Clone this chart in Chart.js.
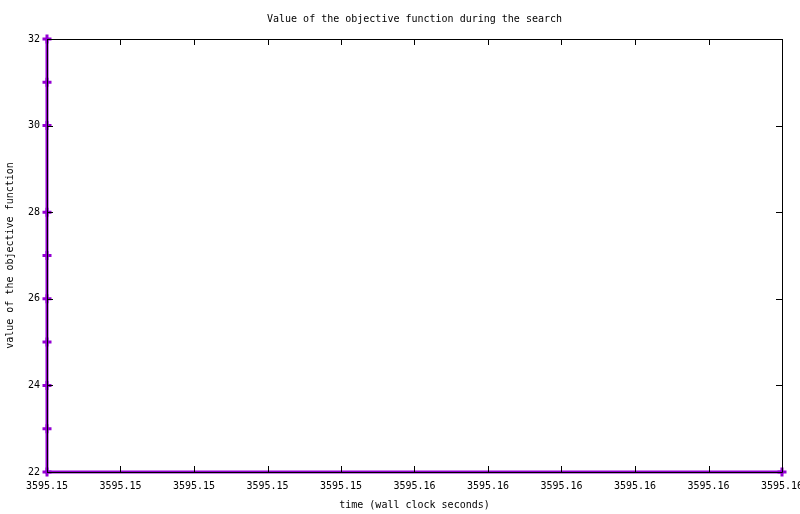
<!DOCTYPE html>
<html>
<head>
<meta charset="utf-8">
<script src="https://cdn.jsdelivr.net/npm/chart.js@4"></script>
<style>
    html, body { margin: 0; padding: 0; background: #ffffff; }
    #wrap { width: 800px; height: 514px; }
</style>
</head>
<body>
<div id="wrap"><canvas id="objectiveChart"></canvas></div>
<script>
// Objective value over wall clock time (gnuplot-style plot)

const timeValues = [3595.151, 3595.151, 3595.151, 3595.151, 3595.151, 3595.151, 3595.151, 3595.151, 3595.151, 3595.151, 3595.1595];
const objectiveValues = [32, 31, 30, 28, 27, 26, 25, 24, 23, 22, 22];

const xMin = 3595.151;
const xMax = 3595.1595;
const xTickLabels = ['3595.15', '3595.15', '3595.15', '3595.15', '3595.15', '3595.16', '3595.16', '3595.16', '3595.16', '3595.16', '3595.16'];
const yTickValues = [22, 24, 26, 28, 30, 32];

const chartTitle = 'Value of the objective function during the search';
const xTitle = 'time (wall clock seconds)';
const yTitle = 'value of the objective function';

const lineColor = '#9400d3';
const monoFont = "'DejaVu Sans Mono', 'Liberation Mono', monospace";

// Frame, inward ticks and titles drawn like gnuplot does
const gnuplotFrame = {
    id: 'gnuplotFrame',
    afterDatasetsDraw(chart) {
        const ctx = chart.ctx;
        const area = chart.chartArea;
        const xScale = chart.scales.x;
        const yScale = chart.scales.y;
        const tick = 6;

        ctx.save();
        ctx.strokeStyle = '#000000';
        ctx.lineWidth = 1;
        ctx.beginPath();
        ctx.rect(Math.round(area.left) + 0.5, Math.round(area.top) + 0.5,
            Math.round(area.right - area.left), Math.round(area.bottom - area.top));

        xScale.ticks.forEach(t => {
            const px = Math.round(xScale.getPixelForValue(t.value)) + 0.5;
            ctx.moveTo(px, area.bottom);
            ctx.lineTo(px, area.bottom - tick);
            ctx.moveTo(px, area.top);
            ctx.lineTo(px, area.top + tick);
        });
        yScale.ticks.forEach(t => {
            const py = Math.round(yScale.getPixelForValue(t.value)) + 0.5;
            ctx.moveTo(area.left, py);
            ctx.lineTo(area.left + tick, py);
            ctx.moveTo(area.right, py);
            ctx.lineTo(area.right - tick, py);
        });
        ctx.stroke();

        ctx.fillStyle = '#000000';
        ctx.font = '10px ' + monoFont;
        ctx.textAlign = 'center';
        ctx.textBaseline = 'middle';
        const midX = (area.left + area.right) / 2;
        ctx.fillText(chartTitle, midX, 19);
        ctx.fillText(xTitle, midX, 505);

        ctx.translate(10, (area.top + area.bottom) / 2);
        ctx.rotate(-Math.PI / 2);
        ctx.fillText(yTitle, 0, 0);
        ctx.restore();
    }
};

new Chart(document.getElementById('objectiveChart').getContext('2d'), {
    type: 'scatter',
    data: {
        datasets: [{
            data: timeValues.map((t, i) => ({ x: t, y: objectiveValues[i] })),
            showLine: true,
            borderColor: lineColor,
            backgroundColor: lineColor,
            borderWidth: 3,
            pointStyle: 'cross',
            pointRadius: 4.5,
            pointBorderWidth: 3,
            pointBorderColor: lineColor,
            clip: false
        }]
    },
    options: {
        responsive: true,
        maintainAspectRatio: false,
        animation: false,
        devicePixelRatio: 1,
        layout: {
            padding: { left: 0, top: 39, right: 18, bottom: 0 }
        },
        plugins: {
            legend: { display: false },
            tooltip: { enabled: false }
        },
        scales: {
            x: {
                type: 'linear',
                min: xMin,
                max: xMax,
                afterBuildTicks: scale => {
                    scale.ticks = xTickLabels.map((_, i) => ({ value: xMin + (xMax - xMin) * i / (xTickLabels.length - 1) }));
                },
                afterFit: scale => {
                    scale.height = 42;
                    scale.paddingLeft = 0;
                    scale.paddingRight = 0;
                },
                grid: { display: false, drawTicks: false },
                border: { display: false },
                ticks: {
                    autoSkip: false,
                    maxRotation: 0,
                    padding: 8,
                    color: '#000000',
                    font: { family: monoFont, size: 10 },
                    callback: (value, index) => xTickLabels[index]
                }
            },
            y: {
                min: 22,
                max: 32,
                afterBuildTicks: scale => {
                    scale.ticks = yTickValues.map(v => ({ value: v }));
                },
                afterFit: scale => {
                    scale.width = 47;
                    scale.paddingTop = 0;
                    scale.paddingBottom = 0;
                },
                grid: { display: false, drawTicks: false },
                border: { display: false },
                ticks: {
                    padding: 7,
                    color: '#000000',
                    font: { family: monoFont, size: 10 }
                }
            }
        }
    },
    plugins: [gnuplotFrame]
});
</script>
</body>
</html>
